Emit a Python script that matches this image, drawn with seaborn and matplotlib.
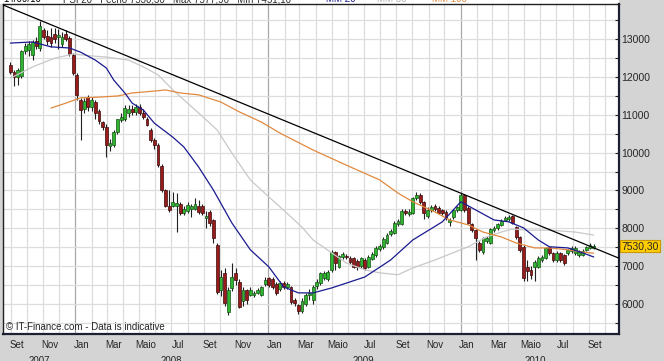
import numpy as np
import pandas as pd
import matplotlib
matplotlib.use("Agg")
import matplotlib.pyplot as plt
import matplotlib.dates as mdates
import matplotlib.transforms as mtransforms
from matplotlib.patches import Rectangle
from matplotlib.ticker import MultipleLocator
import seaborn as sns

# --- weekly candles (PSI 20), first week ending 2007-08-31 ---
first_week = "2007-08-31"

opens = [12320, 12130, 11990, 12030, 12680, 12720, 12580, 12950, 12780, 13250,
         13100, 13050, 13150, 13050, 12880, 13150, 13030, 12580, 12050, 11400,
         11150, 11470, 11200, 11330, 11100, 10800, 10680, 10180, 10200, 10550,
         10870, 10900, 11050, 11150, 11080, 11200, 11050, 10880, 10600, 10340,
         10200, 9650, 9020, 8600, 8590, 8600, 8640, 8400, 8460, 8500,
         8520, 8600, 8580, 8270, 8430, 8220, 7560, 6370, 6820, 5790,
         6420, 6820, 6580, 6080, 6370, 6240, 6240, 6290, 6230, 6520,
         6680, 6650, 6530, 6400, 6560, 6450, 6450, 6100, 5970, 5800,
         6000, 6230, 6100, 6470, 6550, 6680, 6650, 6890, 7370, 6980,
         7240, 7270, 7200, 7200, 7140, 7000, 7170, 6980, 7190, 7290,
         7450, 7500, 7610, 7850, 7880, 8100, 8110, 8460, 8390, 8410,
         8800, 8880, 8700, 8320, 8480, 8590, 8540, 8480, 8430, 8170,
         8300, 8480, 8480, 8880, 8540, 8100, 7950, 7610, 7370, 7650,
         7610, 7950, 8000, 8080, 8220, 8240, 8320, 8030, 7770, 7510,
         6980, 6900, 6980, 6980, 7150, 7210, 7500, 7350, 7160, 7340,
         7280, 7340, 7400, 7350, 7280, 7300, 7430, 7480, 7480]

closes = [12130, 11990, 12180, 12680, 12830, 12880, 12920, 12820, 13350, 13050,
          12950, 12900, 13000, 13120, 13050, 13000, 12620, 12100, 11520, 11130,
          11380, 11200, 11400, 11050, 10850, 10680, 10200, 10250, 10550, 10880,
          10950, 11190, 11150, 11080, 11200, 11050, 10950, 10730, 10340, 10200,
          9680, 9020, 8590, 8480, 8700, 8680, 8400, 8520, 8620, 8580,
          8650, 8420, 8400, 8320, 8140, 7740, 6310, 6720, 6020, 6370,
          6720, 6640, 5920, 6370, 6100, 6370, 6290, 6370, 6440, 6630,
          6500, 6450, 6280, 6550, 6450, 6520, 6050, 6020, 5800, 6080,
          6230, 6300, 6440, 6580, 6820, 6820, 6830, 7370, 7080, 7270,
          7320, 7240, 7110, 6980, 6980, 7200, 6960, 7240, 7320, 7480,
          7530, 7720, 7820, 7930, 8140, 8190, 8460, 8400, 8440, 8800,
          8880, 8700, 8410, 8480, 8560, 8510, 8410, 8410, 8270, 8220,
          8480, 8560, 8880, 8480, 8150, 7950, 7740, 7430, 7740, 7750,
          7980, 8000, 8100, 8200, 8280, 8300, 8140, 7770, 7430, 6680,
          6880, 6750, 7100, 7220, 7250, 7470, 7350, 7160, 7350, 7160,
          7080, 7420, 7480, 7480, 7380, 7400, 7500, 7560, 7530.30]

highs = [12400, 12200, 12250, 12720, 12900, 12950, 12980, 13050, 13480, 13300,
         13250, 13300, 13300, 13280, 13200, 13250, 13100, 12650, 12100, 11450,
         11450, 11520, 11480, 11400, 11150, 10850, 10750, 10350, 10600, 10900,
         11050, 11250, 11250, 11250, 11300, 11300, 11150, 10950, 10650, 10400,
         10250, 9700, 9050, 9000, 8950, 8940, 8700, 8600, 8700, 8650,
         8800, 8750, 8650, 8450, 8480, 8250, 7600, 6900, 6950, 6450,
         7090, 6950, 6650, 6450, 6400, 6450, 6350, 6420, 6480, 6700,
         6720, 6700, 6580, 6600, 6600, 6580, 6480, 6150, 6000, 6150,
         6300, 6380, 6500, 6650, 6850, 6880, 6900, 7420, 7400, 7300,
         7380, 7320, 7260, 7250, 7180, 7250, 7220, 7280, 7360, 7520,
         7580, 7760, 7870, 7980, 8180, 8250, 8500, 8520, 8500, 8830,
         8950, 8920, 8730, 8550, 8620, 8640, 8580, 8520, 8470, 8280,
         8520, 8600, 8920, 8900, 8580, 8130, 7980, 7650, 7780, 7800,
         8020, 8060, 8150, 8250, 8320, 8350, 8350, 8060, 7800, 7550,
         7150, 7000, 7150, 7260, 7300, 7500, 7540, 7380, 7400, 7380,
         7320, 7460, 7520, 7520, 7420, 7450, 7540, 7600, 7577.90]

lows = [12080, 11760, 11800, 11980, 12600, 12550, 12450, 12750, 12700, 13000,
        12850, 12800, 12900, 12750, 12800, 12950, 12550, 12050, 11400, 10340,
        11050, 11100, 11100, 10900, 10750, 10600, 9880, 10050, 10150, 10500,
        10800, 10850, 10950, 11000, 11000, 11000, 10900, 10700, 10280, 10100,
        9620, 8950, 8550, 8420, 8550, 7900, 8350, 8350, 8400, 8300,
        8480, 8380, 8350, 8000, 8050, 7600, 6250, 6200, 5950, 5700,
        6350, 6500, 5880, 5950, 6000, 6200, 6180, 6250, 6200, 6480,
        6450, 6400, 6230, 6350, 6400, 6400, 6000, 5950, 5720, 5750,
        5950, 6100, 6000, 6400, 6500, 6620, 6600, 6850, 6900, 6950,
        7180, 7180, 7050, 6950, 6900, 6950, 6890, 6940, 7150, 7250,
        7400, 7450, 7580, 7800, 7850, 8050, 8080, 8350, 8330, 8380,
        8750, 8650, 8250, 8280, 8420, 8460, 8370, 8360, 8220, 8050,
        8250, 8430, 8450, 8430, 8100, 7900, 7160, 7380, 7330, 7600,
        7580, 7900, 7950, 8050, 8180, 8200, 8100, 7720, 7380, 6600,
        6600, 6650, 6600, 6940, 7100, 7180, 7300, 7100, 7120, 7100,
        7040, 7300, 7350, 7300, 7250, 7260, 7400, 7450, 7450]

# moving averages (week index -> value)
ma20_idx = [0, 6, 11, 16, 19, 23, 26, 28, 31, 33, 36, 39, 44, 47, 51, 55, 60, 65,
            70, 74, 78, 82, 87, 96, 103, 109, 117, 122, 125, 131, 135, 139, 143,
            146, 151, 155, 158]
ma20_val = [12900, 12930, 12800, 12770, 12660, 12450, 12240, 11920, 11580, 11310,
            11130, 10780, 10410, 10150, 9620, 9010, 8140, 7430, 6980, 6450, 6290,
            6290, 6420, 6710, 7160, 7690, 8170, 8700, 8540, 8220, 8170, 8010, 7690,
            7510, 7480, 7350, 7240]

ma50_idx = [0, 6, 12, 17, 22, 26, 32, 36, 40, 44, 48, 51, 56, 60, 65, 70, 74, 79,
            82, 87, 91, 96, 100, 105, 109, 115, 124, 129, 133, 136, 140, 146, 153,
            158]
ma50_val = [11970, 12270, 12500, 12610, 12560, 12530, 12450, 12270, 12060, 11660,
            11310, 11050, 10600, 9990, 9280, 8830, 8480, 8030, 7690, 7350, 7080,
            6900, 6820, 6770, 6950, 7160, 7510, 7770, 7900, 7980, 7950, 7950, 7900,
            7820]

ma100_idx = [11, 15, 19, 24, 29, 33, 39, 42, 46, 51, 57, 62, 68, 73, 82, 91, 100,
             105, 109, 115, 119, 124, 128, 133, 137, 142, 146, 151, 155, 158]
ma100_val = [11180, 11310, 11450, 11470, 11500, 11580, 11630, 11660, 11580, 11530,
             11340, 11080, 10810, 10520, 10070, 9670, 9280, 8930, 8700, 8430, 8220,
             8090, 7900, 7770, 7610, 7480, 7480, 7430, 7370, 7340]

# resistance line
trend_dates = ["2007-08-17", "2010-10-27"]
trend_vals = [13908, 7213]

month_names = {1: "Jan", 3: "Mar", 5: "Maio", 7: "Jul", 9: "Set", 11: "Nov"}
year_labels = ["2007", "2008", "2009", "2010"]
year_label_dates = ["2007-10-25", "2008-07-01", "2009-07-01", "2010-05-22"]
last_price = 7530.30

# --- figure ---
sns.set_style("white")
plt.rcParams["font.family"] = ["Liberation Sans", "DejaVu Sans"]

W, H = 664, 361
fig = plt.figure(figsize=(W / 100, H / 100), dpi=100, facecolor="#d4d4d4")
ax = fig.add_axes([3 / W, 1 - 334 / H, 616 / W, 330 / H])
ax.set_facecolor("white")
fig.patches.append(Rectangle((0, 1 - 4 / H), 619 / W, 4 / H, transform=fig.transFigure,
                             facecolor="white", edgecolor="none", zorder=-1))

week_dates = pd.date_range(first_week, periods=len(closes), freq="7D")
xd = mdates.date2num(week_dates.to_pydatetime())
o = np.array(opens, dtype=float)
c = np.array(closes, dtype=float)
hi = np.array(highs, dtype=float)
lo = np.array(lows, dtype=float)

x0 = mdates.date2num(pd.Timestamp("2007-08-17"))
x1 = mdates.date2num(pd.Timestamp("2010-10-28"))
ax.set_xlim(x0, x1)
ax.set_ylim(5202, 13934)

# grid: months light, year starts darker
for m in pd.date_range("2007-09-01", "2010-10-01", freq="MS"):
    col = "#a8a8a8" if m.month == 1 else "#dddddd"
    ax.axvline(mdates.date2num(m), color=col, lw=0.9, zorder=0)
for v in range(5500, 14000, 500):
    ax.axhline(v, color="#dddddd", lw=0.9, zorder=0)

# candles
up = c >= o
ax.vlines(xd, lo, hi, color="#202020", lw=0.8, zorder=2)
ax.bar(xd[up], (c - o)[up], bottom=o[up], width=5.4, color="#2fb52f",
       edgecolor="#145214", linewidth=0.5, zorder=3)
ax.bar(xd[~up], (o - c)[~up], bottom=c[~up], width=5.4, color="#981c1c",
       edgecolor="#3a0a0a", linewidth=0.5, zorder=3)

# indicators
sns.lineplot(x=xd[ma50_idx], y=ma50_val, color="#c8c8c8", lw=0.9, ax=ax, zorder=4)
sns.lineplot(x=xd[ma100_idx], y=ma100_val, color="#e08a40", lw=0.9, ax=ax, zorder=4)
sns.lineplot(x=xd[ma20_idx], y=ma20_val, color="#1a1a90", lw=0.9, ax=ax, zorder=4)
tx = mdates.date2num(pd.to_datetime(trend_dates).to_pydatetime())
sns.lineplot(x=tx, y=trend_vals, color="black", lw=0.9, ax=ax, zorder=5)
ax.set_xlabel("")
ax.set_ylabel("")

# y axis on the right
ax.yaxis.tick_right()
ax.yaxis.set_major_locator(MultipleLocator(1000))
ax.yaxis.set_minor_locator(MultipleLocator(500))
ax.tick_params(axis="y", which="both", direction="in", length=3.2, width=0.8,
               color="#202020", labelsize=7.5, pad=1.5, right=True, left=False)
ax.set_yticklabels([f"{int(t)}" for t in ax.get_yticks()])
ax.set_ylim(5202, 13934)

# x axis: tick marks monthly, labels every two months
tick_pos = [mdates.date2num(m + pd.Timedelta(days=4))
            for m in pd.date_range("2007-09-01", "2010-10-01", freq="MS")]
ax.set_xticks(tick_pos)
ax.set_xticklabels([])
ax.tick_params(axis="x", which="both", direction="inout", length=4, width=0.8,
               color="#202020")
blend = mtransforms.blended_transform_factory(ax.transData, ax.transAxes)
for m in pd.date_range("2007-09-01", "2010-10-01", freq="MS"):
    if m.month in month_names:
        ax.text(mdates.date2num(m + pd.Timedelta(days=12)), -11 / 330, month_names[m.month],
                transform=blend, ha="center", va="center", fontsize=7, clip_on=False)
for lab, d in zip(year_labels, year_label_dates):
    ax.text(mdates.date2num(pd.Timestamp(d)), -22 / 330, lab, transform=blend,
            ha="center", va="top", fontsize=7, clip_on=False)

for side in ["top", "left"]:
    ax.spines[side].set_color("#202020")
    ax.spines[side].set_linewidth(1.0)
for side in ["right", "bottom"]:
    ax.spines[side].set_color("#1c2030")
    ax.spines[side].set_linewidth(1.6)

# last price tag
yblend = mtransforms.blended_transform_factory(ax.transAxes, ax.transData)
ax.text(1 + 2.5 / 616, last_price, "7530,30", transform=yblend, ha="left", va="center",
        fontsize=7.5, clip_on=False,
        bbox=dict(boxstyle="square,pad=0.12", fc="#ffcc00", ec="#c89600", lw=0.8))

ax.text(3 / 616, 7 / 330, "\u00a9 IT-Finance.com - Data is indicative", transform=ax.transAxes,
        ha="left", va="center", fontsize=7, zorder=6)

# header strip (cut off at the top edge)
hy = 1 - 2 / H
fig.text(3 / W, hy, "14/09/10", fontsize=7, va="baseline", color="black")
fig.text(63 / W, hy, "PSI 20   Fecho 7530,30   M\u00e1x 7577,90   M\u00edn 7451,10",
         fontsize=7, va="baseline", color="#303030")
fig.text(326 / W, hy, "MM 20", fontsize=7, va="baseline", color="#1a1a90")
fig.text(377 / W, hy, "MM 50", fontsize=7, va="baseline", color="#b0b0b0")
fig.text(432 / W, hy, "MM 100", fontsize=7, va="baseline", color="#e08a40")

fig.savefig("out.png", dpi=100, facecolor=fig.get_facecolor())
